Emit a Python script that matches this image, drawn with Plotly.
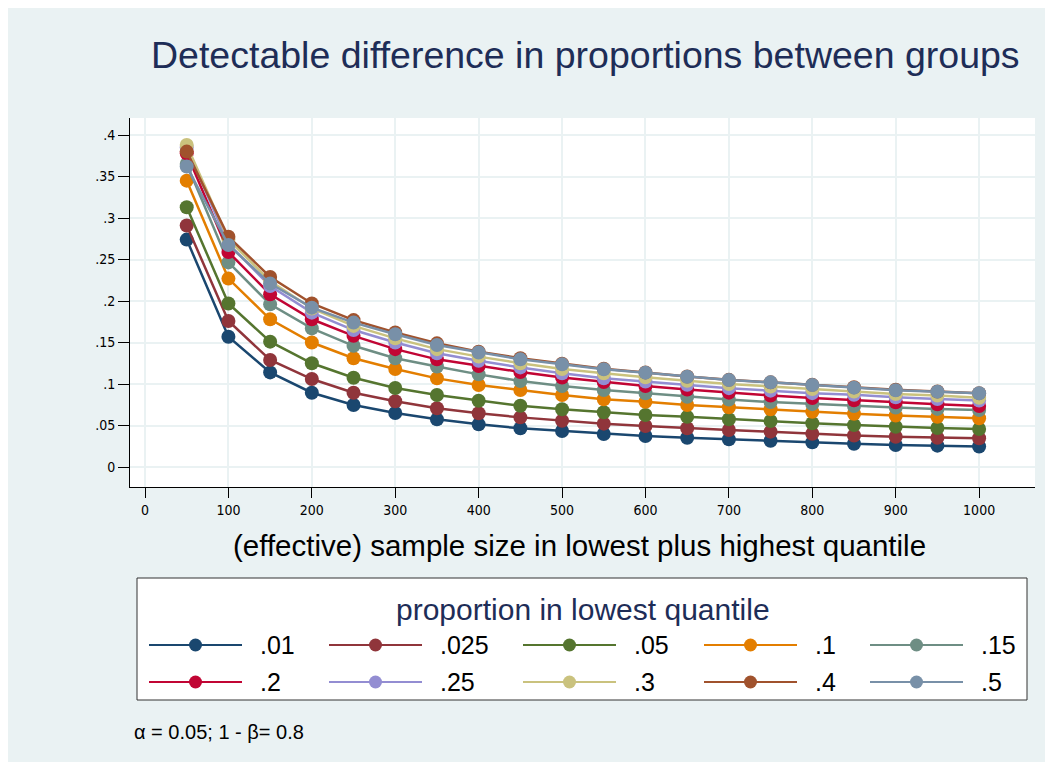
import plotly.graph_objects as go

# ---------------- data ----------------
sample_size = [50, 100, 150, 200, 250, 300, 350, 400, 450, 500,
               550, 600, 650, 700, 750, 800, 850, 900, 950, 1000]

proportion_labels = [".01", ".025", ".05", ".1", ".15", ".2", ".25", ".3", ".4", ".5"]

diff_p010 = [0.274, 0.157, 0.114, 0.0895, 0.0747, 0.065, 0.0574, 0.0514, 0.0466, 0.0434,
             0.0398, 0.0373, 0.0353, 0.0333, 0.0317, 0.0297, 0.0280, 0.0265, 0.0257, 0.0247]
diff_p025 = [0.291, 0.176, 0.129, 0.106, 0.0895, 0.0793, 0.0707, 0.0647, 0.0598, 0.0558,
             0.0522, 0.0494, 0.0466, 0.0446, 0.0426, 0.0400, 0.0380, 0.0365, 0.0353, 0.0346]
diff_p050 = [0.313, 0.197, 0.151, 0.125, 0.1076, 0.0952, 0.0867, 0.0799, 0.0738, 0.0695,
             0.0660, 0.0627, 0.0604, 0.0576, 0.0554, 0.0528, 0.0505, 0.0485, 0.0470, 0.0458]
diff_p100 = [0.345, 0.227, 0.178, 0.150, 0.131, 0.118, 0.1068, 0.0988, 0.0928, 0.0867,
             0.0817, 0.0787, 0.0747, 0.0719, 0.0695, 0.0666, 0.0642, 0.0620, 0.0604, 0.0587]
diff_p150 = [0.365, 0.2465, 0.196, 0.167, 0.146, 0.131, 0.121, 0.1116, 0.1036, 0.0976,
             0.0928, 0.0888, 0.0847, 0.0812, 0.0782, 0.0757, 0.0735, 0.0716, 0.0700, 0.0687]
diff_p200 = [0.378, 0.259, 0.208, 0.178, 0.158, 0.142, 0.1297, 0.1217, 0.1145, 0.1078,
             0.1023, 0.0976, 0.0934, 0.0896, 0.0862, 0.0831, 0.0804, 0.0780, 0.0756, 0.0735]
diff_p250 = [0.385, 0.269, 0.218, 0.186, 0.165, 0.150, 0.137, 0.128, 0.120, 0.113,
             0.107, 0.103, 0.099, 0.095, 0.092, 0.089, 0.087, 0.084, 0.082, 0.080]
diff_p300 = [0.388, 0.274, 0.224, 0.191, 0.170, 0.155, 0.142, 0.133, 0.125, 0.118,
             0.113, 0.108, 0.104, 0.100, 0.097, 0.094, 0.091, 0.088, 0.086, 0.0835]
diff_p400 = [0.380, 0.2775, 0.229, 0.197, 0.177, 0.162, 0.149, 0.139, 0.131, 0.1245,
             0.1185, 0.114, 0.109, 0.105, 0.102, 0.099, 0.096, 0.093, 0.091, 0.089]
diff_p500 = [0.362, 0.2675, 0.221, 0.192, 0.174, 0.160, 0.147, 0.138, 0.1297, 0.1237,
             0.1177, 0.1137, 0.1088, 0.1048, 0.102, 0.0988, 0.0956, 0.0924, 0.0908, 0.0888]

series_values = [diff_p010, diff_p025, diff_p050, diff_p100, diff_p150,
                 diff_p200, diff_p250, diff_p300, diff_p400, diff_p500]

x_tick_vals = [0, 100, 200, 300, 400, 500, 600, 700, 800, 900, 1000]
y_tick_vals = [0, 0.05, 0.1, 0.15, 0.2, 0.25, 0.3, 0.35, 0.4]
y_tick_text = ["0", ".05", ".1", ".15", ".2", ".25", ".3", ".35", ".4"]

title_text = "Detectable difference in proportions between groups"
x_title_text = "(effective) sample size in lowest plus highest quantile"
legend_title_text = "proportion in lowest quantile"
note_text = "α = 0.05; 1 - β= 0.8"

# ---------------- style ----------------
colors = ["#1A476F", "#90353B", "#55752F", "#E37E00", "#6E8E84",
          "#C10534", "#938DD2", "#CAC27E", "#A0522D", "#7890A8"]
BG = "#EAF2F3"
TITLE_COLOR = "#1E2D57"
FONT = "Liberation Sans, Arial, sans-serif"
NARROW = "Liberation Sans Narrow, Arial Narrow, DejaVu Sans Condensed, Liberation Sans, sans-serif"

PAGE_OFF = 8            # default body margin of the html page
W, H = 1037, 754


def fx(px):
    return (px - PAGE_OFF) / W


def fy(py):
    return 1 - (py - PAGE_OFF) / H


fig = go.Figure()

for lab, vals, col in zip(proportion_labels, series_values, colors):
    fig.add_trace(go.Scatter(
        x=sample_size, y=vals, mode="lines+markers", name=lab,
        line=dict(color=col, width=2.5),
        marker=dict(color=col, size=14, line=dict(width=0)),
        showlegend=False, xaxis="x", yaxis="y", cliponaxis=False,
    ))

# ---------------- custom legend (drawn in its own axes) ----------------
col_x0 = [149, 329, 523, 704, 870]
row_y = [645, 682]
sample_len = 93
annotations = []
for i, (lab, col) in enumerate(zip(proportion_labels, colors)):
    r, c = divmod(i, 5)
    x0 = col_x0[c]
    y0 = row_y[r]
    fig.add_trace(go.Scatter(
        x=[x0, x0 + sample_len], y=[y0, y0], mode="lines",
        line=dict(color=col, width=2), showlegend=False,
        xaxis="x2", yaxis="y2", hoverinfo="skip",
    ))
    fig.add_trace(go.Scatter(
        x=[x0 + sample_len / 2], y=[y0], mode="markers",
        marker=dict(color=col, size=13, line=dict(width=0)), showlegend=False,
        xaxis="x2", yaxis="y2", hoverinfo="skip", cliponaxis=False,
    ))
    annotations.append(dict(
        x=x0 + sample_len + 16, y=y0, xref="x2", yref="y2",
        text=lab, showarrow=False, xanchor="left", yanchor="middle",
        font=dict(family=FONT, size=25, color="black"),
    ))

annotations += [
    dict(x=fx(585), y=fy(55), xref="paper", yref="paper", text=title_text,
         showarrow=False, xanchor="center", yanchor="middle",
         font=dict(family=FONT, size=37.5, color=TITLE_COLOR)),
    dict(x=fx(579), y=fy(545), xref="paper", yref="paper", text=x_title_text,
         showarrow=False, xanchor="center", yanchor="middle",
         font=dict(family=FONT, size=29.5, color="black")),
    dict(x=fx(583), y=fy(609), xref="paper", yref="paper", text=legend_title_text,
         showarrow=False, xanchor="center", yanchor="middle",
         font=dict(family=FONT, size=30, color=TITLE_COLOR)),
    dict(x=fx(132), y=fy(732), xref="paper", yref="paper", text=note_text,
         showarrow=False, xanchor="left", yanchor="middle",
         font=dict(family=FONT, size=20, color="black")),
]

fig.update_layout(
    width=W, height=H,
    margin=dict(l=0, r=0, t=0, b=0),
    paper_bgcolor=BG, plot_bgcolor="white",
    showlegend=False,
    xaxis=dict(
        domain=[fx(130), fx(1035)], range=[-18, 1067], anchor="y",
        tickmode="array", tickvals=x_tick_vals,
        ticks="outside", ticklen=10, tickwidth=1, tickcolor="black",
        showline=True, linecolor="black", linewidth=1,
        showgrid=True, gridcolor=BG, gridwidth=2, zeroline=False,
        tickfont=dict(family=NARROW, size=14, color="black"),
    ),
    yaxis=dict(
        domain=[fy(487), fy(118)], range=[-0.0241, 0.4205], anchor="x",
        tickmode="array", tickvals=y_tick_vals, ticktext=y_tick_text,
        ticks="outside", ticklen=11, tickwidth=1, tickcolor="black",
        showline=True, linecolor="black", linewidth=1,
        showgrid=True, gridcolor=BG, gridwidth=2, zeroline=False,
        tickfont=dict(family=NARROW, size=14, color="black"),
    ),
    xaxis2=dict(domain=[fx(137), fx(1027)], range=[137, 1027], anchor="y2",
                visible=False, showgrid=False, zeroline=False),
    yaxis2=dict(domain=[fy(700), fy(578)], range=[700, 578], anchor="x2",
                visible=False, showgrid=False, zeroline=False),
    shapes=[dict(type="rect", xref="paper", yref="paper",
                 x0=fx(137), x1=fx(1027), y0=fy(700), y1=fy(578),
                 line=dict(color="#333333", width=1), fillcolor="rgba(0,0,0,0)",
                 layer="above")],
    annotations=annotations,
)

fig.write_html("out.html")
